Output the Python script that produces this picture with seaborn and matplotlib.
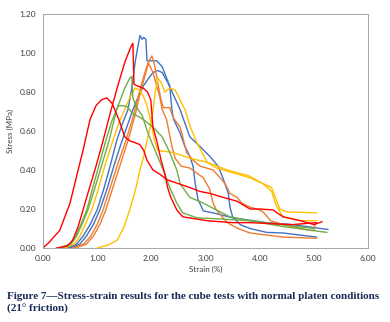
import pandas as pd
import matplotlib
matplotlib.use('Agg')
import matplotlib.pyplot as plt
import seaborn as sns

# --- data (strain %, stress MPa) ---
strain_r1 = [0.00, 0.10, 0.31, 0.50, 0.65, 0.74, 0.87, 0.98, 1.08, 1.18, 1.28, 1.40, 1.51, 1.60, 1.70, 1.79,
             1.86, 1.92, 2.03, 2.15, 2.29, 2.50, 2.71, 2.90, 3.08, 3.32, 3.58, 3.82, 4.00, 4.25, 4.32, 4.43,
             4.75, 5.00, 5.15]
stress_r1 = [0.00, 0.025, 0.09, 0.23, 0.40, 0.50, 0.66, 0.73, 0.76, 0.77, 0.74, 0.66, 0.57, 0.55, 0.54, 0.53,
             0.50, 0.45, 0.40, 0.38, 0.35, 0.33, 0.31, 0.29, 0.28, 0.26, 0.24, 0.20, 0.20, 0.195, 0.18, 0.16,
             0.14, 0.12, 0.135]

strain_r2 = [0.25, 0.45, 0.55, 0.65, 0.74, 0.85, 0.98, 1.11, 1.25, 1.40, 1.52, 1.62, 1.66, 1.68, 1.75, 1.85,
             1.93, 1.99, 2.03, 2.10, 2.18, 2.25, 2.30, 2.36, 2.47, 2.58, 2.80, 3.03, 3.50, 3.82, 4.20, 4.60, 5.05]
stress_r2 = [0.00, 0.01, 0.04, 0.11, 0.195, 0.30, 0.42, 0.55, 0.70, 0.85, 0.96, 1.03, 1.05, 0.84, 0.83, 0.82,
             0.80, 0.76, 0.62, 0.55, 0.45, 0.38, 0.31, 0.26, 0.195, 0.16, 0.15, 0.14, 0.13, 0.13, 0.125, 0.12, 0.13]

strain_g1 = [0.35, 0.52, 0.62, 0.72, 0.83, 0.95, 1.08, 1.22, 1.36, 1.51, 1.60, 1.64, 1.66, 1.73, 1.83, 1.95,
             2.10, 2.22, 2.34, 2.47, 2.58, 2.84, 3.20, 3.80, 4.40, 5.00]
stress_g1 = [0.00, 0.02, 0.06, 0.12, 0.195, 0.30, 0.42, 0.55, 0.71, 0.82, 0.87, 0.88, 0.77, 0.72, 0.68, 0.58,
             0.48, 0.40, 0.31, 0.23, 0.18, 0.155, 0.15, 0.14, 0.12, 0.10]

strain_g2 = [0.30, 0.50, 0.60, 0.70, 0.81, 0.92, 1.04, 1.16, 1.27, 1.39, 1.47, 1.55, 1.66, 1.85, 2.03, 2.20,
             2.34, 2.47, 2.53, 2.71, 2.96, 3.20, 3.45, 3.82, 4.43, 5.24]
stress_g2 = [0.00, 0.02, 0.06, 0.12, 0.195, 0.31, 0.43, 0.55, 0.65, 0.73, 0.73, 0.725, 0.69, 0.66, 0.62, 0.57,
             0.49, 0.40, 0.33, 0.26, 0.23, 0.195, 0.16, 0.14, 0.11, 0.08]

strain_y1 = [0.40, 0.58, 0.68, 0.78, 0.90, 1.02, 1.15, 1.29, 1.40, 1.51, 1.60, 1.70, 1.78, 1.85, 1.92, 2.00,
             2.06, 2.12, 2.40, 2.71, 3.03, 3.40, 3.80, 4.06, 4.22, 4.30, 4.43, 4.75, 5.05]
stress_y1 = [0.00, 0.02, 0.06, 0.12, 0.195, 0.30, 0.43, 0.55, 0.64, 0.71, 0.77, 0.82, 0.81, 0.78, 0.73, 0.64,
             0.55, 0.50, 0.49, 0.46, 0.44, 0.40, 0.37, 0.33, 0.29, 0.22, 0.16, 0.14, 0.14]

strain_y2 = [1.00, 1.20, 1.37, 1.50, 1.60, 1.70, 1.79, 1.86, 1.92, 1.98, 2.03, 2.07, 2.12, 2.18, 2.25, 2.34,
             2.44, 2.53, 2.62, 2.72, 2.84, 3.03, 3.20, 3.58, 3.82, 4.06, 4.22, 4.30, 4.37, 4.50, 5.05]
stress_y2 = [0.00, 0.015, 0.04, 0.11, 0.195, 0.29, 0.40, 0.47, 0.55, 0.62, 0.70, 0.80, 0.87, 0.85, 0.80, 0.82,
             0.81, 0.76, 0.71, 0.62, 0.54, 0.44, 0.41, 0.38, 0.36, 0.33, 0.31, 0.25, 0.20, 0.185, 0.18]

strain_b1 = [0.45, 0.62, 0.74, 0.87, 1.00, 1.12, 1.24, 1.36, 1.47, 1.57, 1.64, 1.70, 1.75, 1.79, 1.83, 1.86,
             1.90, 1.92, 2.00, 2.10, 2.20, 2.34, 2.38, 2.41, 2.53, 2.62, 2.71, 2.77, 2.81, 2.86, 2.96, 3.14,
             3.50, 4.13, 4.60, 5.26]
stress_b1 = [0.00, 0.02, 0.06, 0.12, 0.195, 0.30, 0.42, 0.55, 0.64, 0.71, 0.82, 0.95, 1.03, 1.09, 1.07, 1.08,
             1.07, 0.96, 0.96, 0.96, 0.93, 0.83, 0.71, 0.66, 0.59, 0.52, 0.47, 0.42, 0.33, 0.25, 0.19, 0.18,
             0.155, 0.13, 0.12, 0.095]

strain_b2 = [0.50, 0.68, 0.80, 0.93, 1.05, 1.18, 1.32, 1.46, 1.56, 1.66, 1.75, 1.85, 1.95, 2.03, 2.12, 2.20,
             2.30, 2.45, 2.53, 2.71, 2.90, 3.08, 3.23, 3.32, 3.42, 3.45, 3.50, 3.64, 3.82, 4.13, 4.43, 5.05]
stress_b2 = [0.00, 0.02, 0.06, 0.12, 0.195, 0.30, 0.43, 0.55, 0.63, 0.71, 0.77, 0.83, 0.87, 0.90, 0.91, 0.90,
             0.85, 0.76, 0.71, 0.57, 0.52, 0.47, 0.42, 0.36, 0.28, 0.21, 0.16, 0.12, 0.10, 0.08, 0.077, 0.056]

strain_o1 = [0.60, 0.80, 0.93, 1.05, 1.16, 1.28, 1.43, 1.57, 1.70, 1.80, 1.90, 1.96, 2.01, 2.04, 2.08, 2.13,
             2.18, 2.22, 2.30, 2.34, 2.40, 2.53, 2.58, 2.65, 2.77, 2.90, 3.14, 3.27, 3.36, 3.45, 3.58, 3.67,
             3.82, 4.00, 4.06, 4.20, 4.43, 4.93, 5.00, 5.02]
stress_o1 = [0.00, 0.02, 0.06, 0.12, 0.195, 0.30, 0.43, 0.55, 0.68, 0.80, 0.90, 0.96, 0.985, 0.96, 0.91, 0.83,
             0.76, 0.72, 0.72, 0.72, 0.67, 0.62, 0.57, 0.49, 0.45, 0.42, 0.40, 0.36, 0.33, 0.28, 0.26, 0.23,
             0.21, 0.195, 0.185, 0.14, 0.12, 0.09, 0.09, 0.12]

strain_o2 = [0.55, 0.75, 0.88, 1.00, 1.11, 1.23, 1.38, 1.53, 1.65, 1.76, 1.86, 1.94, 1.98, 2.03, 2.10, 2.16,
             2.20, 2.28, 2.33, 2.38, 2.44, 2.55, 2.71, 2.96, 3.08, 3.14, 3.20, 3.40, 3.60, 3.82, 4.43, 5.05]
stress_o2 = [0.00, 0.02, 0.06, 0.12, 0.195, 0.30, 0.43, 0.55, 0.66, 0.78, 0.88, 0.95, 0.93, 0.90, 0.83, 0.77,
             0.71, 0.66, 0.59, 0.52, 0.46, 0.42, 0.41, 0.36, 0.30, 0.23, 0.195, 0.13, 0.10, 0.077, 0.056, 0.05]

tests = {
    'B1': (strain_b1, stress_b1), 'B2': (strain_b2, stress_b2),
    'O1': (strain_o1, stress_o1), 'O2': (strain_o2, stress_o2),
    'Y1': (strain_y1, stress_y1), 'Y2': (strain_y2, stress_y2),
    'G1': (strain_g1, stress_g1), 'G2': (strain_g2, stress_g2),
    'R1': (strain_r1, stress_r1), 'R2': (strain_r2, stress_r2),
}
colours = {'B1': '#4472C4', 'B2': '#4472C4', 'O1': '#ED7D31', 'O2': '#ED7D31',
           'Y1': '#FFC000', 'Y2': '#FFC000', 'G1': '#70AD47', 'G2': '#70AD47',
           'R1': '#FF0000', 'R2': '#FF0000'}

rows = []
for name, (xs, ys) in tests.items():
    for i, (x, y) in enumerate(zip(xs, ys)):
        rows.append({'test': name, 'order': i, 'strain': x, 'stress': y})
df = pd.DataFrame(rows)

sns.set_theme(style='white')
plt.rcParams['font.family'] = ['Lato', 'DejaVu Sans']

fig = plt.figure(figsize=(3.9, 3.22), dpi=100)
ax = fig.add_axes([0.110, 0.2298, 0.834, 0.7267])

sns.lineplot(data=df, x='strain', y='stress', hue='test', palette=colours,
             estimator=None, sort=False, units='test', legend=False,
             linewidth=1.0, ax=ax)

ax.set_xlim(0, 6)
ax.set_ylim(0, 1.2)
ax.set_xticks([0, 1, 2, 3, 4, 5, 6])
ax.set_yticks([0, 0.2, 0.4, 0.6, 0.8, 1.0, 1.2])
ax.set_xticklabels([f'{v:.2f}' for v in ax.get_xticks()])
ax.set_yticklabels([f'{v:.2f}' for v in ax.get_yticks()])
ax.set_xlabel('Strain (%)', fontsize=5.8, color='#404040', labelpad=3)
ax.set_ylabel('Stress (MPa)', fontsize=5.8, color='#404040', labelpad=4)
ax.tick_params(axis='both', labelsize=6.0, colors='#404040', length=3, width=0.6,
               direction='out', pad=2, color='#A6A6A6')
for s in ax.spines.values():
    s.set_color('#A6A6A6')
    s.set_linewidth(0.7)

fig.text(0.018, 0.078, 'Figure 7\u2014Stress-strain results for the cube tests with normal platen conditions',
         fontsize=8.0, fontweight='bold', family='Liberation Serif', color='#1c2b57',
         va='center', ha='left')
fig.text(0.018, 0.040, '(21\u00b0 friction)',
         fontsize=8.0, fontweight='bold', family='Liberation Serif', color='#1c2b57',
         va='center', ha='left')

fig.savefig('out.png', dpi=100)
